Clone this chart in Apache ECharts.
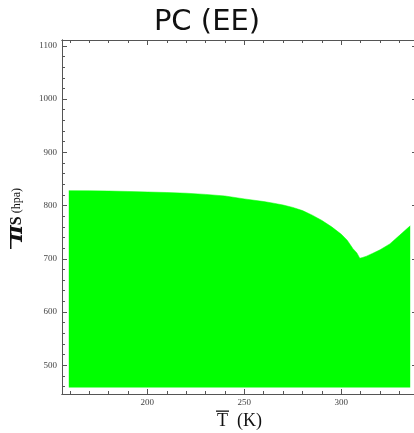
<!DOCTYPE html>
<html>
<head>
<meta charset="utf-8">
<script src="https://cdn.jsdelivr.net/npm/echarts@6/dist/echarts.min.js"></script>
<style>
html,body{margin:0;padding:0;background:#fff;}
#chart{width:414px;height:433px;}
</style>
</head>
<body>
<div id="chart"></div>
<script>
// Data
const temperatureK = [159.5,170,180,190,200,210,220,230,240,250,255,260,265,270,275,280,285,290,295,300,303,306,308,309.5,311,313,316,320,325,330,335.5];
const pressureHpa = [828,827.7,827.3,826.5,825.5,824.5,823.2,821,818,812.5,810,807.5,804.5,801,796.5,790.5,782,772,760,746,735,719,711,701,702.5,705,710,717,728,744,762];
const fillBase = 458;
const xMajorTicks = [200,250,300];
const xMinorTicks = [160,170,180,190,210,220,230,240,260,270,280,290,310,320,330];
const yMajorTicks = [500,600,700,800,900,1000,1100];
const yMinorTicks = [460,480,520,540,560,580,620,640,660,680,720,740,760,780,820,840,860,880,920,940,960,980,1020,1040,1060,1080];

const points = temperatureK.map((t,i)=>[t, pressureHpa[i]]);

const axisColor = '#555';
const labelFont = {fontFamily:'Liberation Serif', fontSize:9, color:'#444'};
const plainFmt = v => String(v);

function xAx(pos, ticks, len, labels){
  return {
    type:'value', position:pos, min:156, max:339,
    axisLine:{show:true, onZero:false, lineStyle:{color:axisColor, width:1}},
    axisTick:{show:true, inside:true, length:len, customValues:ticks, lineStyle:{color:axisColor}},
    axisLabel: labels ? Object.assign({show:true, customValues:xMajorTicks, margin:4, formatter:plainFmt}, labelFont) : {show:false},
    splitLine:{show:false}
  };
}
function yAx(pos, ticks, len, labels){
  return {
    type:'value', position:pos, min:446, max:1111, offset:0,
    axisLine:{show:true, onZero:false, lineStyle:{color:axisColor, width:1}},
    axisTick:{show:true, inside:true, length:len, customValues:ticks, lineStyle:{color:axisColor}},
    axisLabel: labels ? Object.assign({show:true, customValues:yMajorTicks, margin:5, formatter:plainFmt}, labelFont) : {show:false},
    splitLine:{show:false}
  };
}

const xAxes = [xAx('bottom', xMajorTicks, 5, true), xAx('bottom', xMinorTicks, 3, false),
               xAx('top', xMajorTicks, 5, false), xAx('top', xMinorTicks, 3, false)];
xAxes[0].name = 'T  (K)';
xAxes[0].nameLocation = 'middle';
xAxes[0].nameGap = 18;
xAxes[0].nameTextStyle = {fontFamily:'Liberation Serif', fontSize:18, color:'#111'};

const yAxes = [yAx('left', yMajorTicks, 5, true), yAx('left', yMinorTicks, 3, false),
               yAx('right', yMajorTicks, 5, false), yAx('right', yMinorTicks, 3, false)];
yAxes[0].name = '{a|\u03C0}{b|S}{c| (hpa)}';
yAxes[0].nameLocation = 'middle';
yAxes[0].nameGap = 34;
yAxes[0].nameRotate = 90;
yAxes[0].nameTextStyle = {
  color:'#111',
  padding:[0,0,0,4],
  rich:{
    a:{fontFamily:'DejaVu Serif', fontStyle:'italic', fontWeight:'bold', fontSize:23, color:'#111'},
    b:{fontFamily:'Liberation Serif', fontWeight:'bold', fontSize:16, color:'#111'},
    c:{fontFamily:'Liberation Serif', fontSize:12, color:'#111'}
  }
};

const chart = echarts.init(document.getElementById('chart'), null, {renderer:'canvas'});
chart.setOption({
  backgroundColor:'#fff',
  animation:false,
  title:{text:'PC (EE)', left:'center', top:3,
    textStyle:{fontFamily:'DejaVu Sans', fontWeight:'normal', fontSize:29, color:'#111'}},
  grid:{left:62, top:40, width:355, height:354, containLabel:false, outerBoundsMode:'none'},
  xAxis:xAxes,
  yAxis:yAxes,
  graphic:[
    // overline bars of the axis-title symbols
    {type:'rect', shape:{x:216, y:410.5, width:13, height:1.3}, style:{fill:'#111'}},
    {type:'rect', shape:{x:10, y:233, width:1.5, height:16}, style:{fill:'#111'}}
  ],
  series:[{
    type:'line', xAxisIndex:0, yAxisIndex:0,
    data:points, showSymbol:false, symbol:'none', smooth:false,
    lineStyle:{color:'#00ff00', width:0.5},
    areaStyle:{color:'#00ff00', opacity:1, origin:fillBase}
  }]
});
</script>
</body>
</html>
